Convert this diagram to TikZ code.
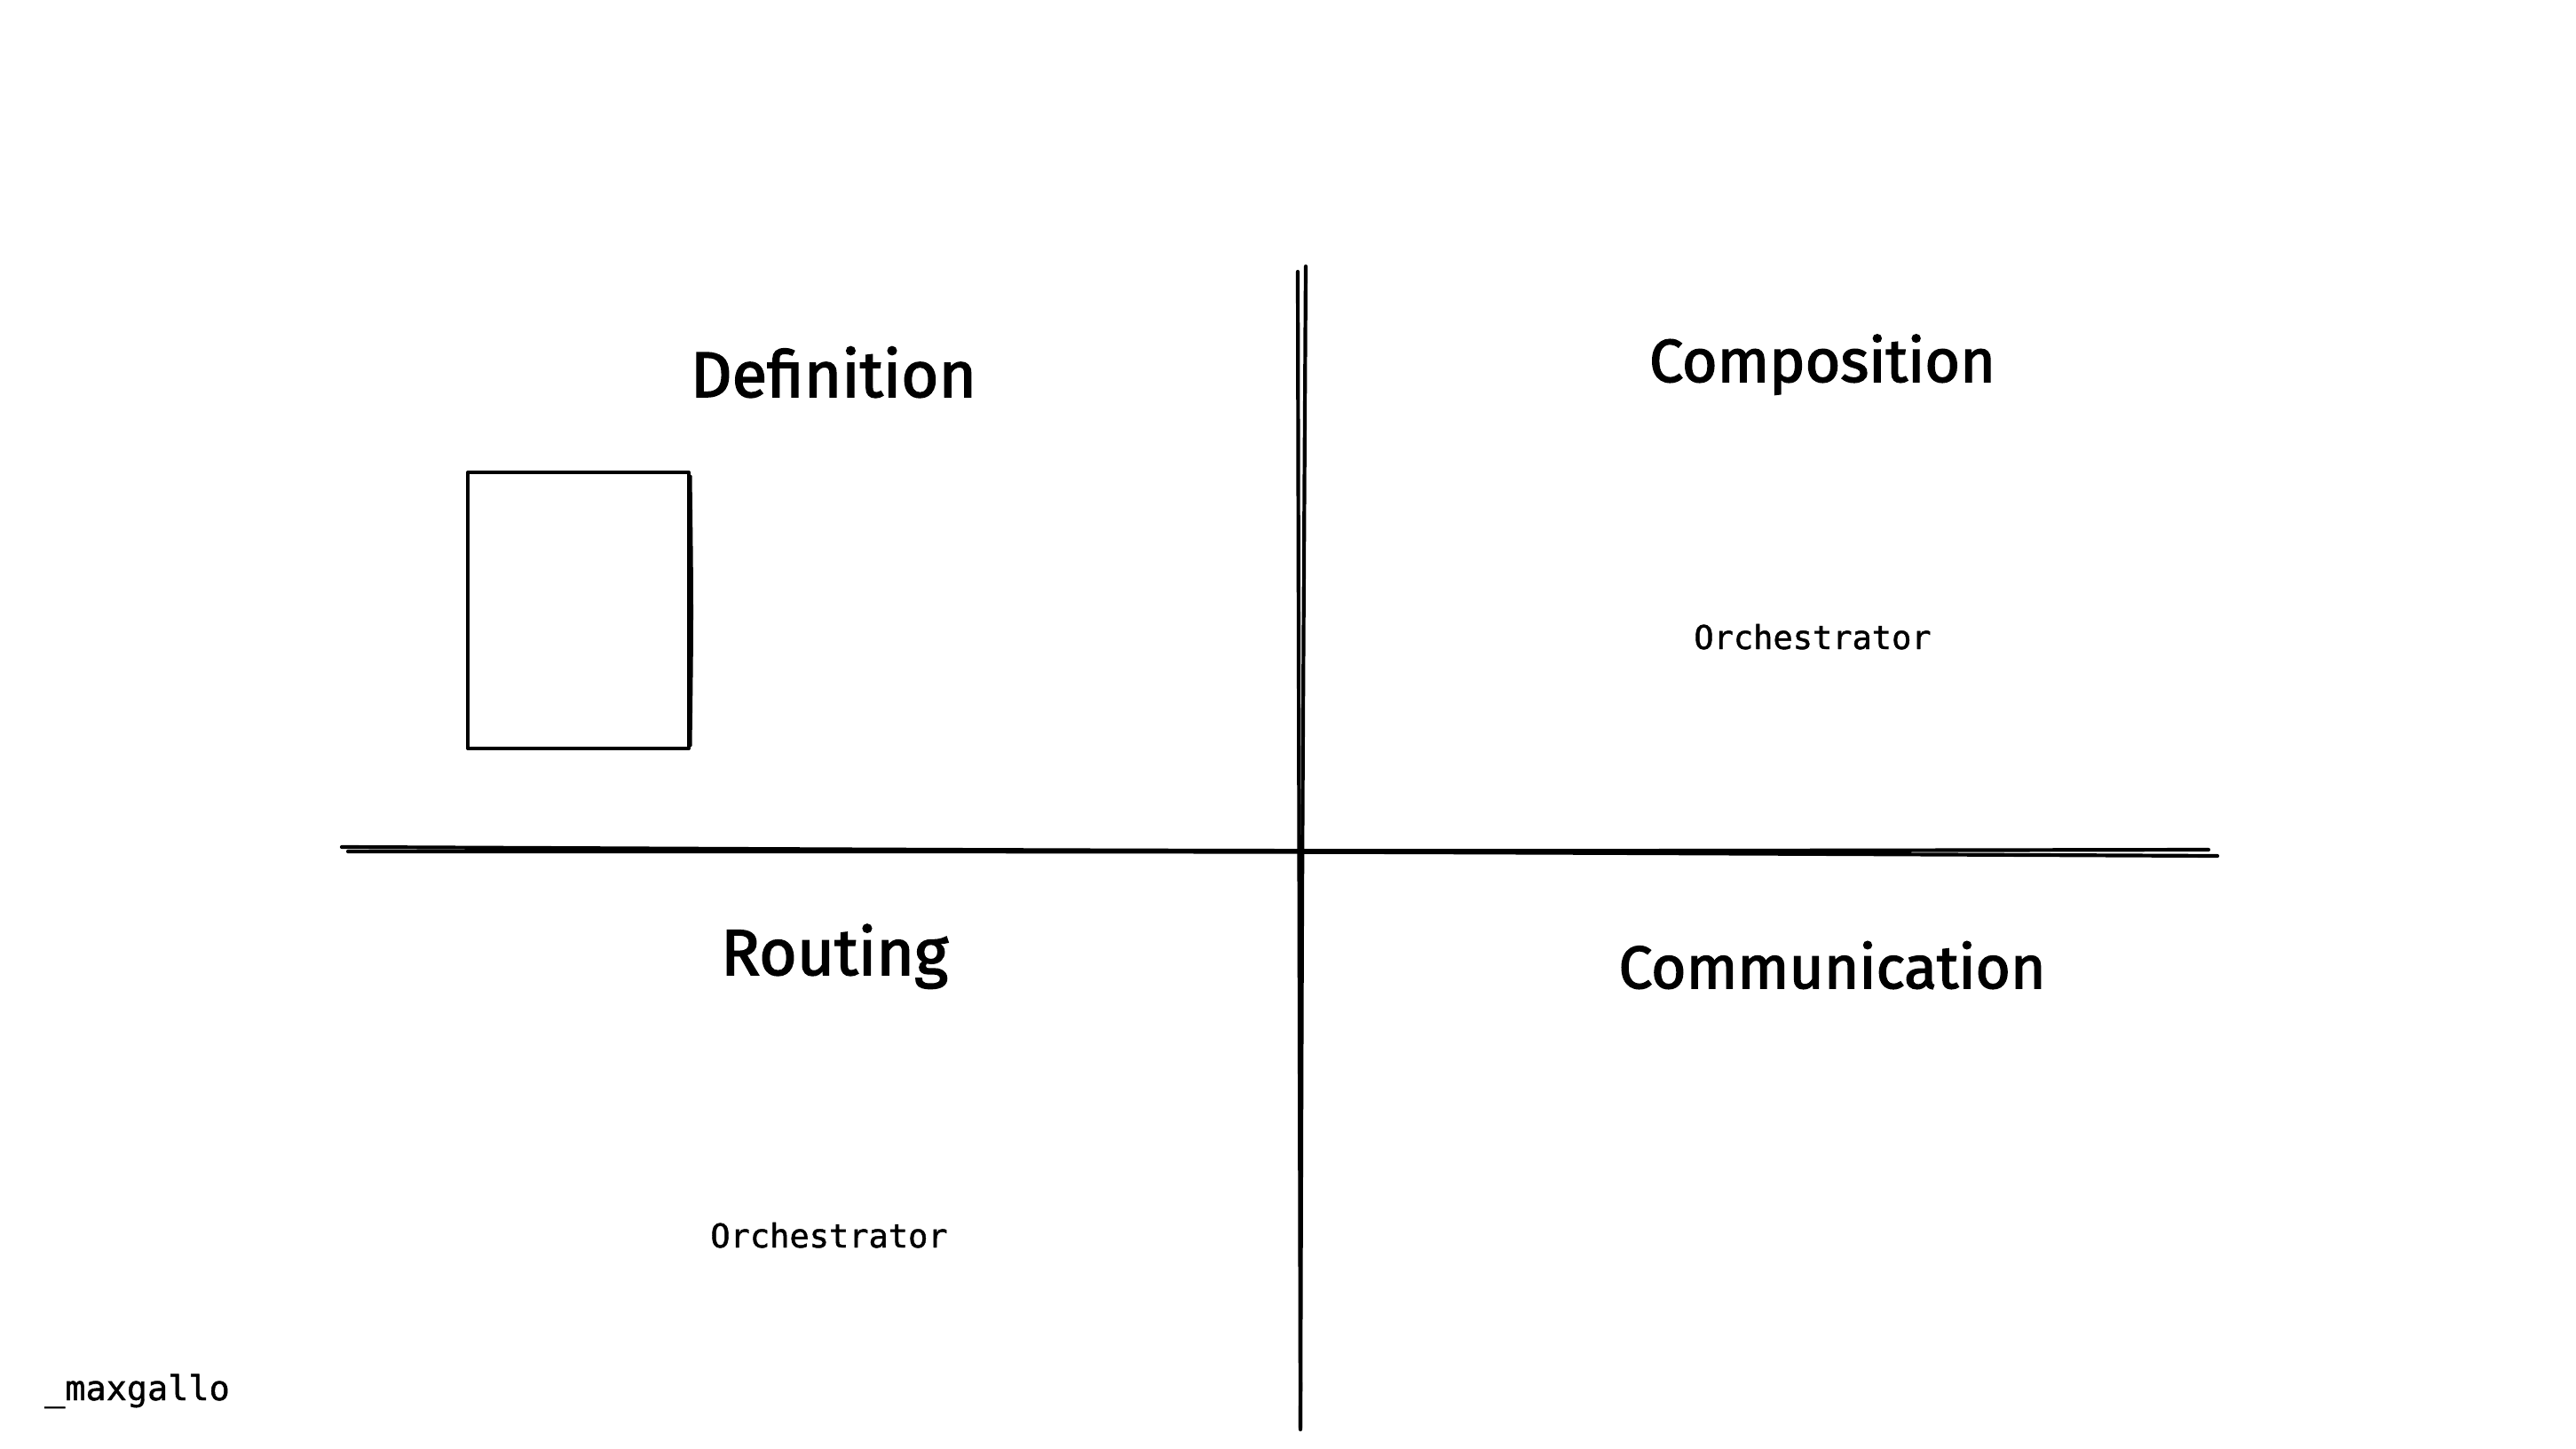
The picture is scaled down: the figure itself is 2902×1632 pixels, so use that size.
\documentclass[tikz,border=0pt]{standalone}
\usepackage{fontspec}
\setmainfont{Fira Sans}
\newfontfamily\monof[FakeBold=1.2]{DejaVu Sans Mono}
\newfontfamily\handf[FakeBold=2.2]{Fira Sans}
\newcommand\handtext[2]{\resizebox{#1pt}{!}{\fontsize{70}{80}\handf\selectfont #2}}
\begin{document}
\begin{tikzpicture}[x=1pt,y=-1pt,
  stroke/.style={line width=4.2pt,line cap=round,line join=round,black},
  hand/.style={inner sep=0pt,anchor=base},
  mono/.style={inner sep=0pt,anchor=base,font=\monof\fontsize{37}{44}\selectfont}]
\fill[white] (0,0) rectangle (2902,1632);
\useasboundingbox (0,0) rectangle (2902,1632);
% axes (hand-drawn double strokes)
\coordinate (vtA) at (1462,306);
\coordinate (vbA) at (1465,1608);
\coordinate (vtB) at (1471,300);
\coordinate (vmB) at (1467,959);
\coordinate (vbB) at (1465,1610);
\draw[stroke] (vtA) -- (vbA);
\draw[stroke] (vtB) .. controls (vmB) .. (vbB);
\coordinate (hlA) at (385,954);
\coordinate (hrA) at (2488,957);
\coordinate (hlB) at (392,959);
\coordinate (hmB) at (1465,959);
\coordinate (hrB) at (2498,964);
\draw[stroke] (hlA) .. controls (hmB) .. (hrA);
\draw[stroke] (hlB) .. controls (hmB) .. (hrB);
% box
\coordinate (b1) at (527,532);
\coordinate (b2) at (776,532);
\coordinate (b3) at (776,843);
\coordinate (b4) at (527,843);
\draw[stroke,line width=4pt] (b1) -- (b2) -- (b3) -- (b4) -- cycle;
\coordinate (b2x) at (778,536);
\coordinate (b3x) at (778,840);
\draw[stroke,line width=3pt] (b2x) .. controls (780,690) .. (b3x);
% titles
\node[hand] (def) at (939,447) {\handtext{322}{Definition}};
\node[hand] (comp) at (2053,430) {\handtext{390}{Composition}};
\node[hand] (rout) at (940,1098) {\handtext{256}{Routing}};
\node[hand] (comm) at (2064,1113) {\handtext{481}{Communication}};
% labels
\node[mono] (orch1) at (2042,731) {Orchestrator};
\node[mono] (orch2) at (934,1405) {Orchestrator};
\node[mono,anchor=base west,font=\monof\fontsize{38.5}{44}\selectfont] (sig) at (50,1577) {\_maxgallo};
\end{tikzpicture}
\end{document}
